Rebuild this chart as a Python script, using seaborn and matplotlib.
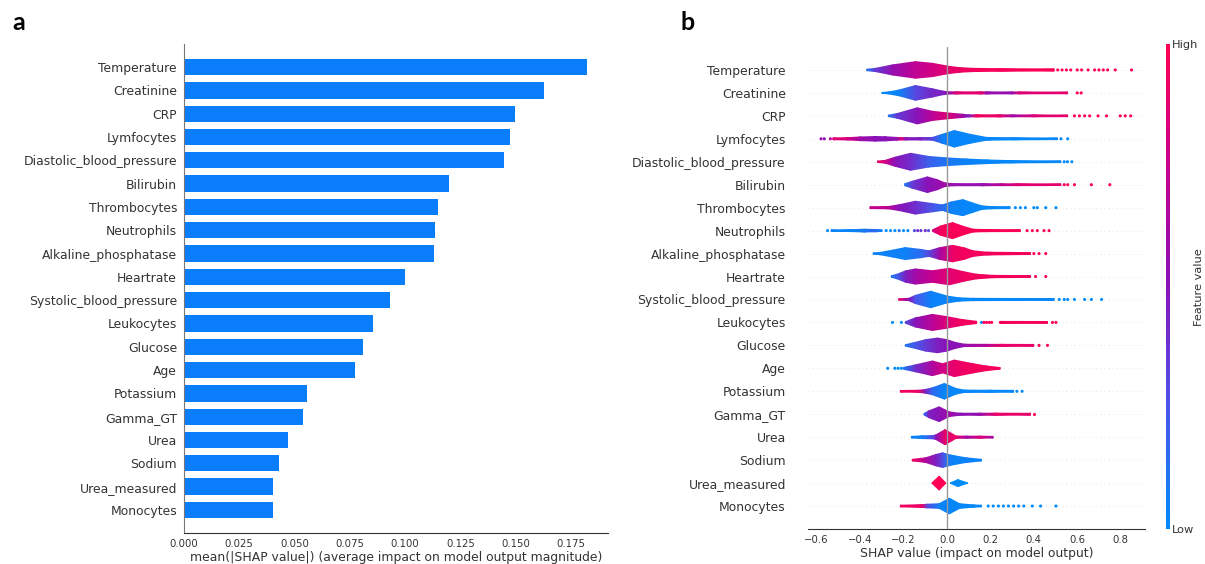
import numpy as np
import matplotlib
matplotlib.use("Agg")
import matplotlib.pyplot as plt
import seaborn as sns
from matplotlib.colors import LinearSegmentedColormap
from matplotlib.cm import ScalarMappable

features = ["Temperature", "Creatinine", "CRP", "Lymfocytes", "Diastolic_blood_pressure",
            "Bilirubin", "Thrombocytes", "Neutrophils", "Alkaline_phosphatase", "Heartrate",
            "Systolic_blood_pressure", "Leukocytes", "Glucose", "Age", "Potassium",
            "Gamma_GT", "Urea", "Sodium", "Urea_measured", "Monocytes"]

# panel a: mean(|SHAP value|) per feature
mean_abs_shap = [0.1824, 0.1626, 0.1498, 0.1472, 0.1449, 0.1197, 0.1150, 0.1136, 0.1129, 0.0999,
                 0.0930, 0.0853, 0.0811, 0.0772, 0.0558, 0.0536, 0.0471, 0.0429, 0.0403, 0.0402]

# panel b: violin outlines
# SHAP value, half width (in rows), feature value colour (0 = low, 1 = high)
violin_x = [
    [-0.37, -0.33, -0.25, -0.145, -0.067, 0.0, 0.058, 0.12, 0.245, 0.494],
    [-0.30, -0.27, -0.223, -0.145, -0.067, -0.02, 0.003, 0.042, 0.16, 0.18, 0.30, 0.33, 0.556],
    [-0.27, -0.23, -0.137, -0.067, 0.0, 0.073, 0.10, 0.135, 0.245, 0.30, 0.40, 0.556],
    [-0.52, -0.456, -0.40, -0.33, -0.285, -0.23, -0.21, -0.192, -0.12, -0.067, -0.02, 0.034, 0.104, 0.182, 0.307, 0.509],
    [-0.32, -0.285, -0.238, -0.168, -0.083, -0.005, 0.089, 0.182, 0.291, 0.525],
    [-0.195, -0.16, -0.09, -0.045, -0.01, 0.026, 0.167, 0.25, 0.322, 0.525],
    [-0.355, -0.27, -0.223, -0.145, -0.067, -0.02, 0.02, 0.073, 0.12, 0.16, 0.198, 0.291],
    [-0.534, -0.45, -0.38, -0.33, -0.30, -0.299, -0.066, -0.065, -0.03, 0.026, 0.07, 0.12, 0.182, 0.338],
    [-0.34, -0.308, -0.25, -0.192, -0.12, -0.083, -0.036, 0.026, 0.08, 0.12, 0.182, 0.385],
    [-0.257, -0.23, -0.19, -0.145, -0.067, 0.011, 0.08, 0.136, 0.213, 0.385],
    [-0.223, -0.176, -0.145, -0.075, 0.0, 0.058, 0.12, 0.25, 0.494],
    [-0.192, -0.145, -0.067, 0.0, 0.073, 0.136, 0.137, 0.24, 0.245, 0.463],
    [-0.192, -0.16, -0.098, -0.044, 0.0, 0.042, 0.081, 0.182, 0.25, 0.40],
    [-0.2, -0.145, -0.067, -0.02, 0.034, 0.12, 0.182, 0.245],
    [-0.215, -0.13, -0.1, -0.067, -0.012, 0.042, 0.081, 0.2, 0.307],
    [-0.106, -0.083, -0.036, 0.011, 0.058, 0.151, 0.22, 0.385],
    [-0.164, -0.114, -0.065, -0.051, -0.009, 0.042, 0.089, 0.151, 0.213],
    [-0.16, -0.098, -0.05, -0.02, 0.005, 0.04, 0.089, 0.159],
    [-0.07, -0.036, -0.005, 0.014, 0.05, 0.097],
    [-0.215, -0.114, -0.09, -0.036, 0.011, 0.058, 0.12, 0.159],
]
violin_w = [
    [0.03, 0.07, 0.22, 0.36, 0.29, 0.17, 0.1, 0.07, 0.055, 0.045],
    [0.02, 0.04, 0.12, 0.32, 0.18, 0.08, 0.05, 0.045, 0.045, 0.045, 0.04, 0.04, 0.035],
    [0.03, 0.1, 0.35, 0.2, 0.13, 0.07, 0.045, 0.045, 0.045, 0.04, 0.04, 0.035],
    [0.04, 0.05, 0.08, 0.1, 0.09, 0.06, 0.05, 0.05, 0.05, 0.06, 0.2, 0.36, 0.2, 0.06, 0.045, 0.035],
    [0.03, 0.06, 0.2, 0.37, 0.23, 0.17, 0.12, 0.08, 0.05, 0.035],
    [0.04, 0.15, 0.34, 0.22, 0.08, 0.045, 0.045, 0.04, 0.04, 0.035],
    [0.04, 0.05, 0.12, 0.28, 0.18, 0.12, 0.25, 0.35, 0.2, 0.08, 0.05, 0.04],
    [0.035, 0.04, 0.06, 0.05, 0.035, 0.0, 0.0, 0.04, 0.2, 0.35, 0.2, 0.06, 0.045, 0.04],
    [0.03, 0.05, 0.15, 0.26, 0.18, 0.12, 0.25, 0.36, 0.25, 0.12, 0.06, 0.04],
    [0.03, 0.1, 0.25, 0.33, 0.25, 0.36, 0.2, 0.1, 0.05, 0.04],
    [0.03, 0.05, 0.18, 0.36, 0.15, 0.07, 0.05, 0.045, 0.04],
    [0.03, 0.2, 0.35, 0.25, 0.12, 0.05, 0.0, 0.0, 0.045, 0.04],
    [0.03, 0.1, 0.25, 0.32, 0.25, 0.12, 0.05, 0.045, 0.045, 0.04],
    [0.04, 0.15, 0.32, 0.2, 0.36, 0.2, 0.1, 0.035],
    [0.035, 0.045, 0.08, 0.15, 0.34, 0.12, 0.05, 0.045, 0.04],
    [0.03, 0.15, 0.32, 0.1, 0.045, 0.045, 0.045, 0.04],
    [0.035, 0.06, 0.07, 0.1, 0.33, 0.05, 0.045, 0.045, 0.035],
    [0.035, 0.1, 0.25, 0.32, 0.25, 0.18, 0.1, 0.035],
    [0.0, 0.3, 0.0, 0.0, 0.15, 0.0],
    [0.035, 0.06, 0.08, 0.1, 0.34, 0.1, 0.05, 0.035],
]
violin_c = [
    [0.1, 0.35, 0.55, 0.72, 0.8, 0.88, 0.92, 0.95, 0.97, 0.98],
    [0.0, 0.03, 0.05, 0.3, 0.42, 0.45, 0.5, 0.85, 0.9, 0.55, 0.55, 0.85, 0.9],
    [0.1, 0.35, 0.5, 0.7, 0.85, 0.6, 0.45, 0.95, 0.9, 0.6, 0.85, 0.9],
    [0.9, 0.8, 0.6, 0.5, 0.5, 0.55, 0.85, 0.5, 0.45, 0.3, 0.05, 0.03, 0.02, 0.02, 0.02, 0.02],
    [0.9, 0.8, 0.5, 0.4, 0.2, 0.1, 0.04, 0.02, 0.02, 0.02],
    [0.1, 0.35, 0.5, 0.55, 0.6, 0.55, 0.55, 0.7, 0.85, 0.9],
    [0.75, 0.7, 0.5, 0.4, 0.25, 0.15, 0.05, 0.03, 0.02, 0.02, 0.02, 0.02],
    [0.05, 0.02, 0.1, 0.15, 0.05, 0.05, 0.8, 0.8, 0.95, 0.98, 0.98, 0.98, 0.98, 0.98],
    [0.05, 0.05, 0.05, 0.05, 0.15, 0.3, 0.6, 0.92, 0.95, 0.95, 0.95, 0.95],
    [0.1, 0.2, 0.45, 0.6, 0.75, 0.87, 0.93, 0.95, 0.95, 0.95],
    [0.9, 0.5, 0.25, 0.05, 0.03, 0.02, 0.02, 0.02, 0.02],
    [0.3, 0.5, 0.7, 0.85, 0.95, 0.95, 0.95, 0.95, 0.95, 0.95],
    [0.1, 0.2, 0.35, 0.45, 0.5, 0.5, 0.55, 0.7, 0.9, 0.9],
    [0.1, 0.4, 0.65, 0.8, 0.9, 0.95, 0.95, 0.95],
    [0.95, 0.9, 0.45, 0.15, 0.03, 0.02, 0.02, 0.02, 0.02],
    [0.15, 0.45, 0.5, 0.6, 0.5, 0.55, 0.9, 0.9],
    [0.05, 0.05, 0.3, 0.5, 0.9, 0.9, 0.6, 0.85, 0.6],
    [0.95, 0.65, 0.45, 0.28, 0.08, 0.03, 0.05, 0.03],
    [1.0, 1.0, 1.0, 0.0, 0.0, 0.0],
    [0.95, 0.9, 0.3, 0.05, 0.03, 0.02, 0.02, 0.02],
]

# single points outside the violins
dot_x = [
    [0.51, 0.53, 0.55, 0.57, 0.60, 0.62, 0.65, 0.68, 0.70, 0.72, 0.74, 0.775, 0.85],
    [0.60, 0.618],
    [0.587, 0.61, 0.634, 0.657, 0.696, 0.735, 0.798, 0.821, 0.846],
    [-0.58, -0.565, -0.537, -0.522, 0.525, 0.556],
    [0.54, 0.555, 0.575],
    [0.54, 0.556, 0.587, 0.665, 0.75],
    [0.315, 0.338, 0.361, 0.40, 0.416, 0.455, 0.502],
    [-0.55, -0.28, -0.26, -0.24, -0.22, -0.2, -0.18, -0.15, -0.135, -0.12, -0.1, -0.085,
     0.369, 0.393, 0.416, 0.447, 0.47],
    [0.40, 0.424, 0.455],
    [0.408, 0.455],
    [0.517, 0.54, 0.556, 0.587, 0.634, 0.665, 0.712],
    [-0.251, -0.21, 0.159, 0.17, 0.182, 0.195, 0.206, 0.486, 0.502],
    [0.424, 0.463],
    [-0.273, -0.24, -0.225, -0.21],
    [0.322, 0.346],
    [0.40],
    [],
    [],
    [],
    [0.19, 0.213, 0.237, 0.26, 0.283, 0.307, 0.33, 0.354, 0.393, 0.431, 0.502],
]
dot_c = [
    [1.0] * 13,
    [1.0, 1.0],
    [1.0] * 9,
    [0.55, 0.5, 0.7, 0.85, 0.0, 0.0],
    [0.0, 0.0, 0.0],
    [1.0] * 5,
    [0.0] * 7,
    [0.0, 0.0, 0.0, 0.0, 0.1, 0.0, 0.0, 0.3, 0.4, 0.35, 0.4, 0.3, 1.0, 1.0, 1.0, 1.0, 1.0],
    [1.0] * 3,
    [1.0, 1.0],
    [0.0] * 7,
    [0.0, 0.0, 0.0, 1.0, 1.0, 1.0, 1.0, 1.0, 1.0],
    [1.0, 1.0],
    [0.0] * 4,
    [0.0, 0.0],
    [1.0],
    [],
    [],
    [],
    [0.0] * 11,
]

bar_color = "#0a7dfb"
text_c = "#333333"
cmap = LinearSegmentedColormap.from_list(
    "shap_red_blue",
    [(0.0, "#008bfb"), (0.25, "#4b55ea"), (0.5, "#8a13b8"), (0.75, "#c7008f"), (1.0, "#ff0052")])

sns.set_style("white")
plt.rcParams["font.family"] = ["DejaVu Sans"]

fig = plt.figure(figsize=(12.05, 5.64), dpi=100)

# ---- panel a: bar chart
ax_a = fig.add_axes([184 / 1205, 1 - 533 / 564, 424 / 1205, 489 / 564])
sns.barplot(x=mean_abs_shap, y=features, orient="h", color=bar_color,
            saturation=1, width=0.7, linewidth=0, ax=ax_a)
ax_a.set_ylim(19.99, -0.99)
ax_a.set_xlim(0, 0.1917)
ax_a.set_xticks(np.arange(0, 0.18, 0.025))
ax_a.set_xticklabels([f"{t:.3f}" for t in np.arange(0, 0.18, 0.025)])
ax_a.tick_params(axis="x", labelsize=7.3, length=2.5, width=0.6, colors=text_c, pad=2)
ax_a.tick_params(axis="y", labelsize=8.9, length=0, pad=5, colors=text_c)
ax_a.set_xlabel("mean(|SHAP value|) (average impact on model output magnitude)",
                fontsize=8.9, color=text_c, labelpad=1)
ax_a.set_ylabel("")
for s in ["top", "right"]:
    ax_a.spines[s].set_visible(False)
ax_a.spines["left"].set_color("#777777")
ax_a.spines["bottom"].set_color(text_c)
ax_a.spines["left"].set_linewidth(0.8)

# ---- panel b: violin summary
ax_b = fig.add_axes([808 / 1205, 1 - 529 / 564, 337 / 1205, 482 / 564])
n = len(features)
for i in range(n):
    y = n - 1 - i
    ax_b.axhline(y, color="#cccccc", lw=0.5, dashes=(1, 5), zorder=-1)
    xs = np.array(violin_x[i])
    ws = np.array(violin_w[i])
    cs = np.array(violin_c[i])
    ax_b.pcolormesh(np.vstack([xs, xs]), np.vstack([y - ws, y + ws]), np.vstack([cs, cs]),
                    cmap=cmap, vmin=0, vmax=1, shading="gouraud", zorder=2)
    if dot_x[i]:
        ax_b.scatter(dot_x[i], [y] * len(dot_x[i]), color=cmap(np.array(dot_c[i])),
                     s=5, linewidths=0, zorder=2)
ax_b.axvline(0, color="#999999", lw=1, zorder=3)
ax_b.set_xlim(-0.64, 0.912)
ax_b.set_ylim(-1, n)
ax_b.set_yticks(range(n))
ax_b.set_yticklabels(features[::-1])
ax_b.set_xticks(np.arange(-0.6, 0.81, 0.2))
ax_b.tick_params(axis="x", labelsize=7.3, length=2.5, width=0.6, colors=text_c, pad=2)
ax_b.tick_params(axis="y", labelsize=8.9, length=0, pad=16, colors=text_c)
ax_b.set_xlabel("SHAP value (impact on model output)", fontsize=8.9, color=text_c, labelpad=1)
for s in ["top", "right", "left"]:
    ax_b.spines[s].set_visible(False)
ax_b.spines["bottom"].set_color(text_c)

# colour bar
cax = fig.add_axes([1166 / 1205, 1 - 529 / 564, 3.5 / 1205, 485 / 564])
cb = fig.colorbar(ScalarMappable(cmap=cmap, norm=plt.Normalize(0, 1)), cax=cax, ticks=[0, 1])
cb.set_ticklabels(["Low", "High"])
cb.ax.tick_params(length=0, labelsize=8.2, pad=2, colors=text_c)
cb.outline.set_visible(False)
fig.text(1199 / 1205, 1 - 287 / 564, "Feature value", rotation=90, ha="center", va="center",
         fontsize=8.2, color=text_c)

# panel letters
fig.text(12 / 1205, 1 - 30 / 564, "a", fontsize=18, fontweight="bold", family="Lato",
         va="baseline", color="black")
fig.text(681 / 1205, 1 - 30 / 564, "b", fontsize=18, fontweight="bold", family="Lato",
         va="baseline", color="black")

fig.savefig("out.png", dpi=100, facecolor="white")
plt.close(fig)
